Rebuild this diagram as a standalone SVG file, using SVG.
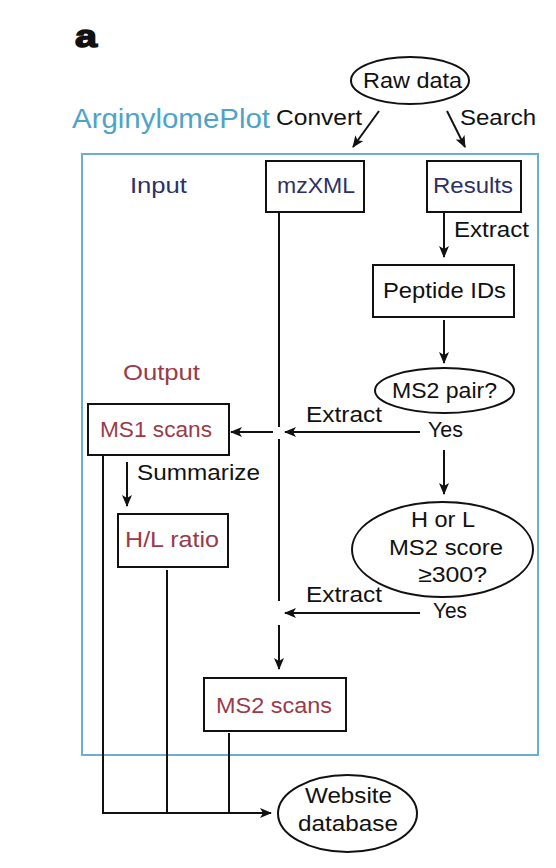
<svg xmlns="http://www.w3.org/2000/svg" width="556" height="868" viewBox="0 0 556 868">
<style>
  text { font-family: "Liberation Sans", Arial, sans-serif; font-size: 22px; fill: #111; }
  .navy { fill: #2d2f66; }
  .red { fill: #9b3a48; }
  .blue { fill: #4fa3c7; }
  .box { fill: #fff; stroke: #111; stroke-width: 2; }
  .ell { fill: #fff; stroke: #111; stroke-width: 2; }
  .ln { fill: none; stroke: #111; stroke-width: 2; }
  .arr { fill: none; stroke: #111; stroke-width: 2; marker-end: url(#ah); }
  .frame { fill: none; stroke: #6aafd3; stroke-width: 2; }
</style>
<defs>
  <marker id="ah" viewBox="0 0 12 10" refX="11" refY="5" markerWidth="12" markerHeight="10" markerUnits="userSpaceOnUse" orient="auto">
    <path d="M0,0 L12,5 L0,10 L3,5 z" fill="#111"/>
  </marker>
</defs>
<rect width="556" height="868" fill="#fff"/>
<text x="75" y="47" style="font-size:32px;font-weight:bold;stroke:#111;stroke-width:1.5" textLength="22" lengthAdjust="spacingAndGlyphs">a</text>

<g id="frame">
  <rect class="frame" x="82" y="154" width="456" height="601"/>
  <text class="blue" x="72" y="128" style="font-size:27px" textLength="198" lengthAdjust="spacingAndGlyphs">ArginylomePlot</text>
  <text class="navy" x="130" y="193" textLength="57" lengthAdjust="spacingAndGlyphs">Input</text>
  <text class="red" x="123" y="380" textLength="77" lengthAdjust="spacingAndGlyphs">Output</text>
</g>

<g id="connectors">
  <line class="arr" x1="379" y1="111" x2="353" y2="147"/>
  <line class="arr" x1="447" y1="111" x2="465" y2="147"/>
  <line class="arr" x1="444" y1="212" x2="444" y2="257"/>
  <line class="arr" x1="444" y1="320" x2="444" y2="363"/>
  <line class="arr" x1="420" y1="432" x2="285" y2="432"/>
  <line class="arr" x1="273" y1="432" x2="231" y2="432"/>
  <line class="ln" x1="279" y1="212" x2="279" y2="427"/>
  <line class="ln" x1="279" y1="439" x2="279" y2="601"/>
  <line class="arr" x1="279" y1="625" x2="279" y2="669"/>
  <line class="arr" x1="444" y1="450" x2="444" y2="494"/>
  <line class="arr" x1="420" y1="613" x2="285" y2="613"/>
  <line class="arr" x1="127" y1="462" x2="127" y2="506"/>
  <line class="ln" x1="103" y1="455" x2="103" y2="813"/>
  <line class="ln" x1="167" y1="570" x2="167" y2="813"/>
  <line class="ln" x1="229" y1="733" x2="229" y2="813"/>
  <line class="arr" x1="102" y1="813" x2="271" y2="813"/>
  <text x="276" y="125" textLength="86" lengthAdjust="spacingAndGlyphs">Convert</text>
  <text x="460" y="125" textLength="76" lengthAdjust="spacingAndGlyphs">Search</text>
  <text x="454" y="237" textLength="75" lengthAdjust="spacingAndGlyphs">Extract</text>
  <text x="306" y="422" textLength="76" lengthAdjust="spacingAndGlyphs">Extract</text>
  <text x="428" y="437" textLength="35" lengthAdjust="spacingAndGlyphs">Yes</text>
  <text x="137" y="480" textLength="123" lengthAdjust="spacingAndGlyphs">Summarize</text>
  <text x="306" y="602" textLength="76" lengthAdjust="spacingAndGlyphs">Extract</text>
  <text x="433" y="618" textLength="34" lengthAdjust="spacingAndGlyphs">Yes</text>
</g>

<g id="raw-data">
  <ellipse class="ell" cx="410" cy="80.5" rx="59" ry="23.5"/>
  <text x="363" y="88" textLength="99" lengthAdjust="spacingAndGlyphs">Raw data</text>
</g>
<g id="mzxml">
  <rect class="box" x="266" y="161" width="98" height="51"/>
  <text class="navy" x="277" y="193" textLength="78" lengthAdjust="spacingAndGlyphs">mzXML</text>
</g>
<g id="results">
  <rect class="box" x="427" y="161" width="94" height="51"/>
  <text class="navy" x="433" y="193" textLength="80" lengthAdjust="spacingAndGlyphs">Results</text>
</g>
<g id="peptide-ids">
  <rect class="box" x="373" y="265" width="141" height="52"/>
  <text x="383" y="298" textLength="123" lengthAdjust="spacingAndGlyphs">Peptide IDs</text>
</g>
<g id="ms2-pair">
  <ellipse class="ell" cx="444.5" cy="390.5" rx="69.5" ry="22.5"/>
  <text x="392" y="398" textLength="105" lengthAdjust="spacingAndGlyphs">MS2 pair?</text>
</g>
<g id="ms1-scans">
  <rect class="box" x="88" y="404" width="141" height="51"/>
  <text class="red" x="100" y="437" textLength="112" lengthAdjust="spacingAndGlyphs">MS1 scans</text>
</g>
<g id="hl-ratio">
  <rect class="box" x="118" y="514" width="110" height="53"/>
  <text class="red" x="125" y="547" textLength="94" lengthAdjust="spacingAndGlyphs">H/L ratio</text>
</g>
<g id="score-check">
  <ellipse class="ell" cx="442.5" cy="549.5" rx="90.5" ry="47.5"/>
  <text x="411" y="527" textLength="64" lengthAdjust="spacingAndGlyphs">H or L</text>
  <text x="389" y="555" textLength="114" lengthAdjust="spacingAndGlyphs">MS2 score</text>
  <text x="418" y="582" textLength="69" lengthAdjust="spacingAndGlyphs">≥300?</text>
</g>
<g id="ms2-scans">
  <rect class="box" x="204" y="678" width="142" height="53"/>
  <text class="red" x="216" y="713" textLength="116" lengthAdjust="spacingAndGlyphs">MS2 scans</text>
</g>
<g id="website-database">
  <ellipse class="ell" cx="347.5" cy="813.5" rx="69.5" ry="38.5"/>
  <text x="305" y="803" textLength="87" lengthAdjust="spacingAndGlyphs">Website</text>
  <text x="298" y="831" textLength="100" lengthAdjust="spacingAndGlyphs">database</text>
</g>
</svg>
